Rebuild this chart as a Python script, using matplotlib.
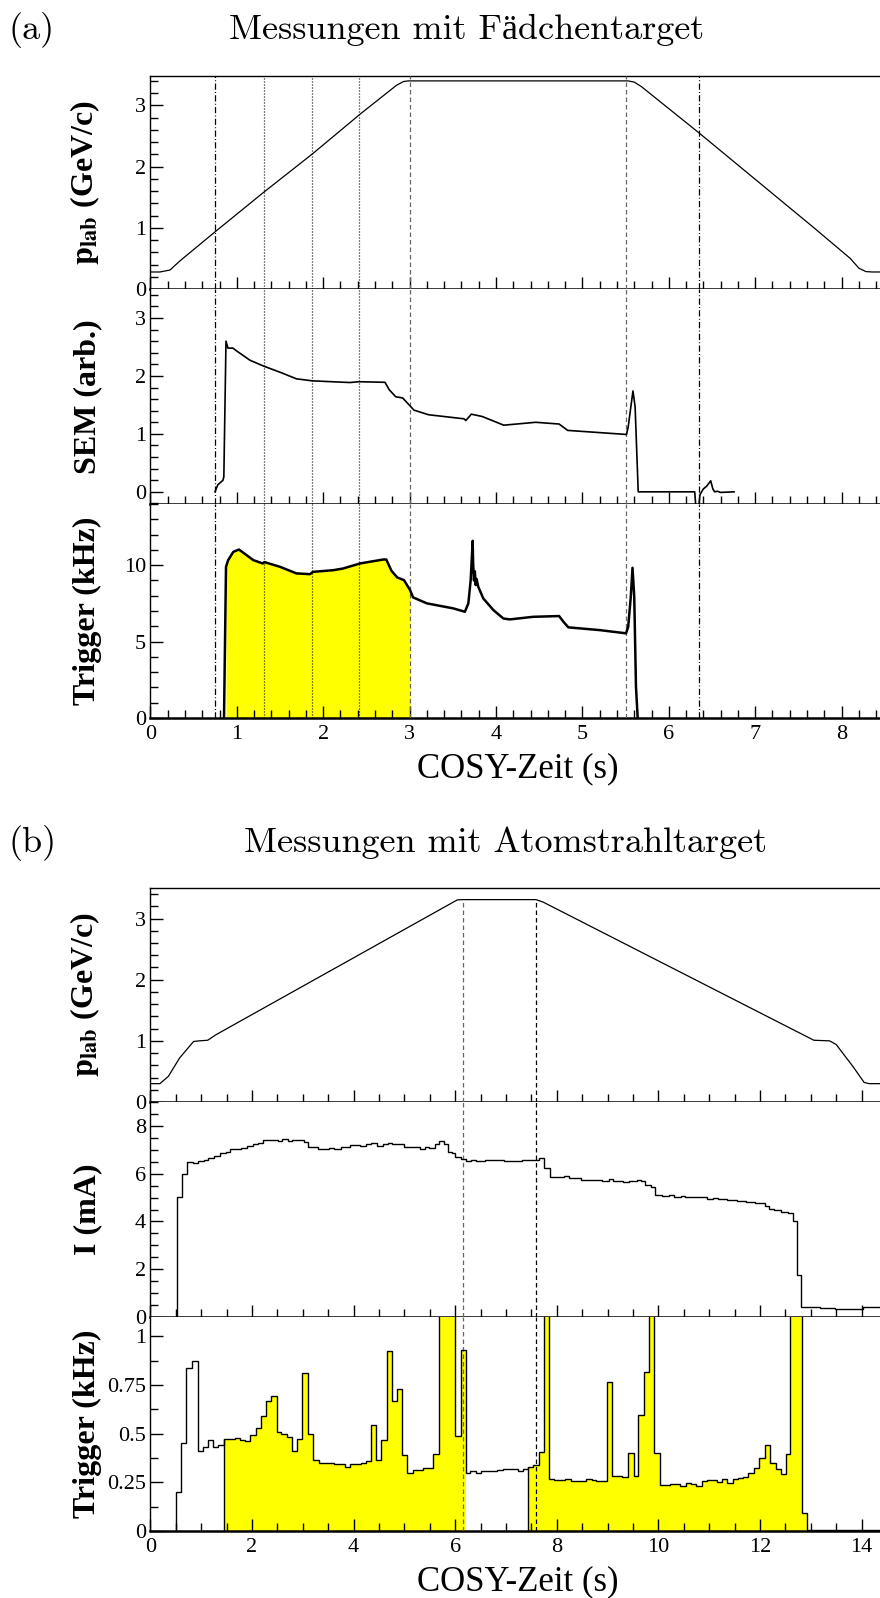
import numpy as np
import matplotlib
matplotlib.use('Agg')
import matplotlib.pyplot as plt
from matplotlib.ticker import MultipleLocator, FormatStrFormatter

plt.rcParams['font.family'] = ['Liberation Serif', 'DejaVu Serif']
plt.rcParams['mathtext.fontset'] = 'stix'

# ---------------- (a) Faedchentarget ----------------
# beam momentum
pa_t = [0, 0.11, 0.227, 0.34, 0.751, 1.311, 1.874, 2.43, 2.85, 2.93, 2.985,
        5.53, 5.60, 5.68, 6.35, 7.68, 8.10, 8.20, 8.28, 8.35, 9.0]
pa_p = [0.278, 0.278, 0.31, 0.457, 0.937, 1.58, 2.206, 2.86, 3.33, 3.39, 3.40,
        3.40, 3.38, 3.31, 2.55, 1.0, 0.50, 0.34, 0.285, 0.278, 0.278]

# SEM signal
sem_t = [0.748, 0.78, 0.84, 0.85, 0.875, 0.897, 0.955, 0.99, 1.153, 1.31, 1.524,
         1.69, 1.876, 2.31, 2.41, 2.715, 2.765, 2.84, 2.92, 3.05, 3.22, 3.63,
         3.65, 3.715, 3.84, 4.09, 4.46, 4.73, 4.83, 5.51, 5.53, 5.585, 5.61,
         5.646, 6.30, 6.315, 6.345, 6.36, 6.40, 6.44, 6.485, 6.51, 6.53, 6.56,
         6.60, 6.755]
sem_v = [0.0, 0.12, 0.20, 0.26, 2.60, 2.48, 2.48, 2.44, 2.27, 2.17, 2.05,
         1.95, 1.915, 1.886, 1.90, 1.89, 1.76, 1.64, 1.62, 1.41, 1.33, 1.26,
         1.23, 1.34, 1.30, 1.15, 1.20, 1.17, 1.06, 0.99, 1.12, 1.74, 1.47,
         0.0, 0.0, -0.3, -0.3, -0.05, 0.05, 0.10, 0.19, 0.05, 0.0, 0.01,
         -0.01, 0.0]

# trigger rate (kHz)
trig_t = [0.852, 0.875, 0.90, 0.96, 1.025, 1.114, 1.19, 1.30, 1.32, 1.50, 1.69,
          1.847, 1.88, 2.117, 2.23, 2.426, 2.696, 2.73, 2.79, 2.858, 2.935,
          3.005, 3.04, 3.20, 3.506, 3.64, 3.68, 3.707, 3.73, 3.735, 3.745,
          3.755, 3.765, 3.775, 3.795, 3.853, 3.97, 4.085, 4.16, 4.43, 4.73,
          4.78, 4.837, 5.20, 5.505, 5.53, 5.56, 5.58, 5.60, 5.62, 5.64]
trig_v = [0, 9.89, 10.33, 10.87, 11.02, 10.65, 10.33, 10.11, 10.2, 9.89, 9.46,
          9.41, 9.56, 9.67, 9.78, 10.11, 10.37, 10.37, 9.63, 9.19, 9.02,
          8.37, 7.89, 7.5, 7.17, 6.95, 7.5, 9.02, 11.59, 10.2, 9.0,
          9.6, 8.7, 9.1, 8.58, 7.82, 7.06, 6.51, 6.45, 6.62, 6.67,
          6.30, 5.93, 5.75, 5.54, 5.97, 7.93, 9.83, 7.93, 2.05, 0]
trig_fill_a = (0.875, 3.005)

marks_a = [0.75, 1.31, 1.87, 2.42, 3.0, 5.5, 6.35]
marks_a_style = ['dashdot', 'dotted', 'dotted', 'dotted', 'dashed', 'dashed', 'dashdot']
marks_a_color = ['black', 'black', 'black', 'black', '#666666', '#666666', 'black']

# ---------------- (b) Atomstrahltarget ----------------
pb_t = [0, 0.187, 0.354, 0.575, 0.85, 0.96, 1.127, 1.29, 6.04, 6.15, 7.59, 7.73,
        13.06, 13.37, 13.50, 13.83, 14.05, 14.15, 14.6]
pb_p = [0.30, 0.30, 0.42, 0.72, 0.99, 1.0, 1.01, 1.10, 3.305, 3.31, 3.31, 3.27,
        1.01, 1.0, 0.94, 0.58, 0.32, 0.30, 0.30]

# beam current I (mA), histogram
cur_edges = [0.52, 0.62, 0.72, 0.83, 0.94, 1.05, 1.14, 1.26, 1.37, 1.48,
             1.57, 1.78, 1.90, 2.01, 2.12, 2.21, 2.33, 2.51, 2.60, 2.70,
             2.79, 3.02, 3.11, 3.29, 3.52, 3.61, 3.75, 3.93, 4.12, 4.25,
             4.35, 4.46, 4.58, 4.67, 4.76, 4.99, 5.22, 5.31, 5.40, 5.49,
             5.60, 5.69, 5.77, 5.86, 5.93, 6.00, 6.11, 6.22, 6.32, 6.41,
             6.59, 6.77, 6.96, 7.23, 7.32, 7.51, 7.65, 7.74, 7.86, 7.97,
             8.15, 8.24, 8.47, 8.74, 8.88, 9.02, 9.11, 9.30, 9.43, 9.57,
             9.66, 9.73, 9.85, 9.94, 10.07, 10.21, 10.30, 10.44, 10.53, 10.62,
             10.95, 11.08, 11.17, 11.36, 11.54, 11.72, 11.91, 12.09, 12.18, 12.27,
             12.41, 12.55, 12.64, 12.73, 12.81, 13.19, 13.47, 14.02, 14.6]
cur_vals = [5.01, 5.99, 6.50, 6.43, 6.52, 6.59, 6.66, 6.73, 6.85, 6.90,
            7.04, 7.09, 7.16, 7.23, 7.30, 7.39, 7.41, 7.35, 7.44, 7.35,
            7.39, 7.32, 7.13, 7.04, 7.09, 7.04, 7.13, 7.18, 7.16, 7.23,
            7.30, 7.16, 7.23, 7.30, 7.25, 7.11, 7.13, 7.04, 7.13, 7.06,
            7.23, 7.37, 7.23, 6.90, 6.85, 6.69, 6.62, 6.52, 6.57, 6.52,
            6.57, 6.59, 6.55, 6.52, 6.57, 6.59, 6.66, 6.24, 5.86, 5.85,
            5.89, 5.82, 5.75, 5.72, 5.68, 5.78, 5.68, 5.64, 5.68, 5.75,
            5.68, 5.54, 5.44, 5.12, 5.08, 5.12, 5.02, 5.08, 5.02, 5.02,
            4.95, 4.99, 4.94, 4.91, 4.87, 4.80, 4.77, 4.63, 4.52, 4.46,
            4.38, 4.35, 4.0, 1.75, 0.42, 0.39, 0.35, 0.42]

# trigger rate (kHz), histogram
tb_edges = [0.50, 0.61, 0.71, 0.82, 0.93, 1.04, 1.14, 1.24, 1.34, 1.45,
            1.66, 1.76, 1.86, 1.96, 2.07, 2.18, 2.28, 2.37, 2.49, 2.58,
            2.68, 2.79, 2.89, 2.99, 3.10, 3.21, 3.31, 3.40, 3.52, 3.62,
            3.72, 3.83, 3.93, 4.03, 4.14, 4.24, 4.34, 4.44, 4.54, 4.65,
            4.75, 4.85, 4.96, 5.06, 5.16, 5.26, 5.37, 5.47, 5.57, 5.68,
            5.79, 5.89, 6.00, 6.11, 6.21, 6.30, 6.40, 6.50, 6.62, 6.82,
            6.95, 7.24, 7.34, 7.44, 7.54, 7.65, 7.75, 7.85, 7.95, 8.06,
            8.16, 8.27, 8.38, 8.48, 8.57, 8.69, 8.78, 8.88, 8.98, 9.09,
            9.19, 9.29, 9.41, 9.51, 9.60, 9.72, 9.82, 9.92, 10.03, 10.13,
            10.23, 10.33, 10.43, 10.54, 10.64, 10.74, 10.85, 10.95, 11.16, 11.26,
            11.36, 11.46, 11.56, 11.67, 11.77, 11.88, 11.99, 12.09, 12.20, 12.31,
            12.41, 12.51, 12.60, 12.71, 12.82, 12.92, 14.6]
tb_vals = [0.20, 0.45, 0.84, 0.873, 0.41, 0.43, 0.47, 0.43, 0.44, 0.475,
           0.48, 0.47, 0.465, 0.496, 0.527, 0.59, 0.667, 0.692, 0.51, 0.50,
           0.484, 0.41, 0.475, 0.81, 0.50, 0.364, 0.35, 0.347, 0.35, 0.342,
           0.342, 0.33, 0.342, 0.342, 0.35, 0.36, 0.544, 0.367, 0.467, 0.925,
           0.67, 0.73, 0.392, 0.30, 0.316, 0.316, 0.325, 0.326, 0.398, 1.4,
           1.6, 1.3, 0.489, 0.93, 0.30, 0.31, 0.30, 0.306, 0.31, 0.315,
           0.32, 0.31, 0.32, 0.33, 0.34, 0.407, 1.5, 0.267, 0.262, 0.264,
           0.267, 0.257, 0.258, 0.258, 0.267, 0.264, 0.257, 0.257, 0.766, 0.282,
           0.282, 0.279, 0.40, 0.284, 0.595, 0.817, 1.4, 0.40, 0.236, 0.236,
           0.24, 0.242, 0.232, 0.248, 0.244, 0.23, 0.258, 0.262, 0.251, 0.265,
           0.248, 0.265, 0.275, 0.279, 0.299, 0.326, 0.376, 0.443, 0.347, 0.318,
           0.292, 0.395, 1.5, 1.5, 0.094, 0.004]
tb_fill_start = [1.45, 7.44]
tb_fill_end = [6.21, 12.92]

marks_b = [6.16, 7.60]
marks_b_color = ['#666666', 'black']

YELLOW = '#ffff00'
W, H = 880, 1598
fig = plt.figure(figsize=(W / 100, H / 100), dpi=100)


def add_panel(top, bottom, left, width):
    return fig.add_axes([left / W, 1 - bottom / H, width / W, (bottom - top) / H])


def style(ax, xlim, ylim, xmaj, xmin, ymaj, ymin, first, last, label):
    ax.set_xlim(*xlim)
    ax.set_ylim(*ylim)
    ax.xaxis.set_major_locator(MultipleLocator(xmaj))
    ax.xaxis.set_minor_locator(MultipleLocator(xmin))
    ax.yaxis.set_major_locator(MultipleLocator(ymaj))
    ax.yaxis.set_minor_locator(MultipleLocator(ymin))
    ax.yaxis.set_major_formatter(FormatStrFormatter('%g'))
    ax.xaxis.set_major_formatter(FormatStrFormatter('%g'))
    ax.tick_params(which='both', direction='in', top=False, right=False,
                   labelsize=16, width=1, pad=3)
    ax.tick_params(which='major', length=9)
    ax.tick_params(which='minor', length=5.5)
    ax.tick_params(axis='x', labelbottom=last, pad=5)
    ax.spines['bottom'].set_linewidth(1.8)
    ax.spines['right'].set_visible(False)
    ax.spines['top'].set_visible(first)
    ax.spines['top'].set_linewidth(1.0)
    ax.spines['left'].set_linewidth(1.0)
    ax.set_ylabel(label, fontsize=23, fontweight='bold')
    ax.yaxis.set_label_coords(-48.0 / ax.bbox.width, 0.5)
    if last:
        ax.set_xlabel('COSY-Zeit (s)', fontsize=25, va='baseline')
        ax.xaxis.set_label_coords(0.5, -59.0 / ax.bbox.height)


def draw_marks(ax, pos, styles, colors, ymax=None):
    for i, x in enumerate(pos):
        lo, hi = ax.get_ylim()
        top = hi if ymax is None else ymax[i]
        ls = styles[i]
        if ls == 'dashed':
            dash = (3.6, 2.4)
        elif ls == 'dotted':
            dash = (0.8, 1.6)
        else:
            dash = (5.0, 1.8, 0.8, 1.8)
        ax.plot([x, x], [lo, top], color=colors[i], lw=0.9, dashes=dash, zorder=3)


plab_label = r'$\mathbf{p_{lab}}$ (GeV/c)'

# ---------- panel (a) ----------
la, wa = 150.4, 8.5 * 86.4
ax1 = add_panel(76, 289, la, wa)
ax2 = add_panel(289, 504, la, wa)
ax3 = add_panel(504, 718, la, wa)

ax1.plot(pa_t, pa_p, color='black', lw=0.9, zorder=4)
style(ax1, (0, 8.5), (0, 3.48), 1, 0.2, 1, 0.2, True, False, plab_label)

ax2.plot(sem_t, sem_v, color='black', lw=1.2, zorder=4)
style(ax2, (0, 8.5), (-0.21, 3.5), 1, 0.2, 1, 0.2, False, False, 'SEM (arb.)')

tt = np.array(trig_t)
tv = np.array(trig_v)
m = (tt >= trig_fill_a[0]) & (tt <= trig_fill_a[1])
ax3.fill_between(tt[m], 0, tv[m], color=YELLOW, lw=0, zorder=1)
ax3.plot(tt, tv, color='black', lw=1.8, zorder=4)
style(ax3, (0, 8.5), (0, 14), 1, 0.2, 5, 1, False, True, 'Trigger (kHz)')

for ax in (ax1, ax2, ax3):
    draw_marks(ax, marks_a, marks_a_style, marks_a_color)

# ---------- panel (b) ----------
lb, wb = 150.4, 14.45 * 50.8
bx1 = add_panel(888, 1102, lb, wb)
bx2 = add_panel(1102, 1317, lb, wb)
bx3 = add_panel(1317, 1531, lb, wb)

bx1.plot(pb_t, pb_p, color='black', lw=0.9, zorder=4)
style(bx1, (0, 14.45), (0, 3.5), 2, 0.5, 1, 0.2, True, False, plab_label)

bx2.stairs(cur_vals, cur_edges, baseline=0, color='black', lw=1.0, zorder=4)
style(bx2, (0, 14.45), (0, 9), 2, 0.5, 2, 0.5, False, False, 'I (mA)')

edges = np.array(tb_edges)
vals = np.array(tb_vals)
for s, e in zip(tb_fill_start, tb_fill_end):
    i0 = int(np.argmin(np.abs(edges - s)))
    i1 = int(np.argmin(np.abs(edges - e)))
    bx3.stairs(vals[i0:i1], edges[i0:i1 + 1], baseline=0, fill=True,
               facecolor=YELLOW, edgecolor='none', zorder=1)
    bx3.vlines(edges[i0], 0, vals[i0], color='black', lw=1.0, zorder=4)
bx3.stairs(vals, edges, baseline=0, color='black', lw=1.0, zorder=4)
style(bx3, (0, 14.45), (0, 1.1), 2, 0.5, 0.25, 0.125, False, True, 'Trigger (kHz)')

p_at_marks = np.interp(marks_b, pb_t, pb_p)
draw_marks(bx1, marks_b, ['dashed', 'dashed'], marks_b_color, ymax=p_at_marks)
for ax in (bx2, bx3):
    draw_marks(ax, marks_b, ['dashed', 'dashed'], marks_b_color)

# ---------- headings ----------
head = dict(family=['cmr10', 'Liberation Serif'], fontsize=26, va='center')
fig.text(8 / W, 1 - 30 / H, '(a)', ha='left', **head)
fig.text(467 / W, 1 - 30 / H, 'Messungen mit Fädchentarget', ha='center', **head)
fig.text(8 / W, 1 - 843 / H, '(b)', ha='left', **head)
fig.text(506 / W, 1 - 843 / H, 'Messungen mit Atomstrahltarget', ha='center', **head)

fig.savefig('out.png', dpi=100)
